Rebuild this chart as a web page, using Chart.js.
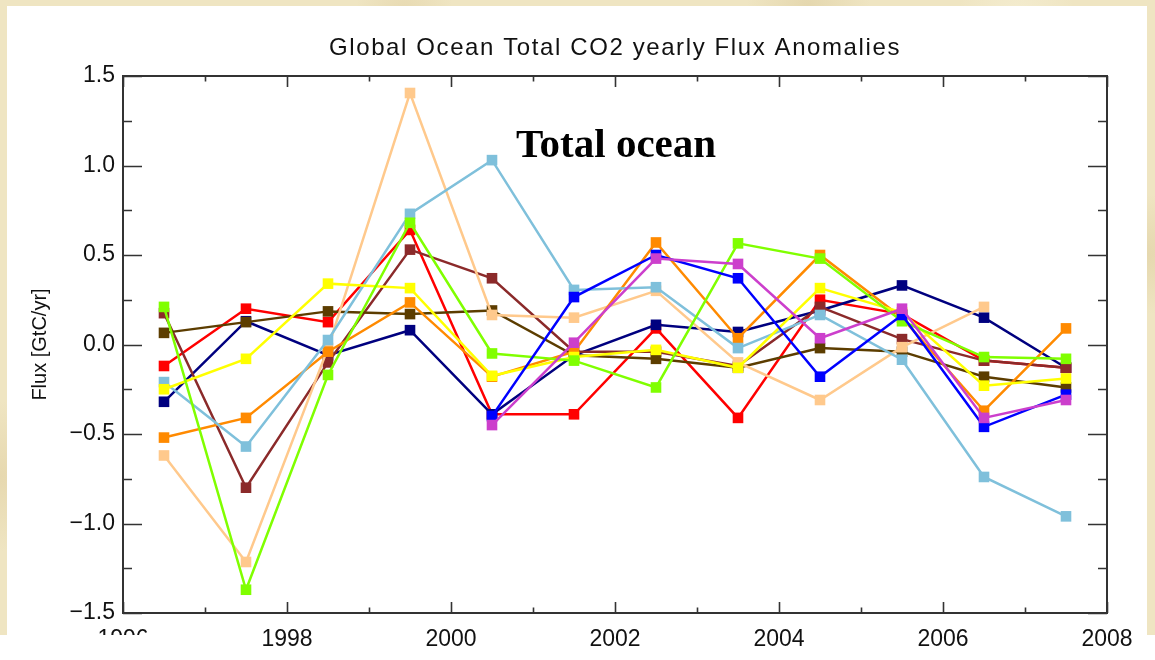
<!DOCTYPE html>
<html>
<head>
<meta charset="utf-8">
<title>Global Ocean Total CO2 yearly Flux Anomalies</title>
<script src="https://cdn.jsdelivr.net/npm/chart.js@4.4.1/dist/chart.umd.min.js"></script>
<style>
  html, body { margin: 0; padding: 0; width: 1155px; height: 660px; overflow: hidden; background: #fff; }
  #paper {
    position: absolute; left: 0; top: 0; width: 1155px; height: 635px;
    background-color: #efe5c2;
    background-image:
      radial-gradient(circle at 10% 20%, rgba(222,205,160,0.55) 0, rgba(222,205,160,0) 6%),
      radial-gradient(circle at 35% 2%, rgba(226,210,166,0.6) 0, rgba(226,210,166,0) 5%),
      radial-gradient(circle at 70% 1%, rgba(220,204,158,0.55) 0, rgba(220,204,158,0) 6%),
      radial-gradient(circle at 99% 40%, rgba(222,206,160,0.6) 0, rgba(222,206,160,0) 5%),
      radial-gradient(circle at 0% 75%, rgba(225,208,162,0.6) 0, rgba(225,208,162,0) 6%),
      radial-gradient(circle at 88% 3%, rgba(246,240,214,0.7) 0, rgba(246,240,214,0) 5%);
  }
  #sheet { position: absolute; left: 7px; top: 6px; width: 1140px; height: 654px; background: #fff; }
  #wrap { position: absolute; left: 0; top: 0; width: 1155px; height: 660px; }
</style>
</head>
<body>
<div id="paper"></div>
<div id="sheet"></div>
<div id="wrap"><canvas id="c" width="1155" height="660"></canvas></div>
<script>
// Mid-year sample times
const years = [1996.5, 1997.5, 1998.5, 1999.5, 2000.5, 2001.5, 2002.5, 2003.5, 2004.5, 2005.5, 2006.5, 2007.5];

// Yearly flux anomalies (GtC/yr), one array per model run
const fluxRed         = [-0.12, 0.20, 0.125, 0.64, -0.39, -0.39, 0.09, -0.41, 0.25, 0.17, -0.09, -0.13];
const fluxNavy        = [-0.32, 0.13, -0.06, 0.08, -0.39, -0.06, 0.11, 0.07, 0.19, 0.33, 0.15, -0.13];
const fluxBrown       = [0.175, -0.80, -0.10, 0.53, 0.37, -0.04, -0.04, -0.12, 0.21, 0.03, -0.09, -0.13];
const fluxDarkBrown   = [0.065, 0.125, 0.185, 0.17, 0.19, -0.06, -0.08, -0.13, -0.02, -0.04, -0.18, -0.24];
const fluxLightOrange = [-0.62, -1.215, -0.02, 1.405, 0.165, 0.15, 0.30, -0.10, -0.31, -0.015, 0.21, null];
const fluxOrange      = [-0.52, -0.41, -0.04, 0.235, -0.18, -0.04, 0.57, 0.035, 0.50, 0.15, -0.37, 0.09];
const fluxLightBlue   = [-0.21, -0.57, 0.025, 0.73, 1.03, 0.305, 0.32, -0.02, 0.165, -0.085, -0.74, -0.96];
const fluxYellow      = [-0.25, -0.08, 0.34, 0.315, -0.175, -0.07, -0.03, -0.13, 0.315, 0.18, -0.23, -0.19];
const fluxGreen       = [0.21, -1.37, -0.17, 0.68, -0.05, -0.09, -0.24, 0.565, 0.48, 0.13, -0.07, -0.08];
const fluxBlue        = [null, null, null, null, -0.40, 0.265, 0.50, 0.37, -0.18, 0.165, -0.46, -0.28];
const fluxMagenta     = [null, null, null, null, -0.45, 0.01, 0.48, 0.45, 0.035, 0.20, -0.41, -0.31];

// Axis ticks
const xMajorTicks = [1996, 1998, 2000, 2002, 2004, 2006, 2008];
const xMinorTicks = [1997, 1999, 2001, 2003, 2005, 2007];
const yMajorTicks = [-1.5, -1.0, -0.5, 0.0, 0.5, 1.0, 1.5];
const yMinorTicks = [-1.25, -0.75, -0.25, 0.25, 0.75, 1.25];

const chartTitle = 'Global Ocean Total CO2 yearly Flux Anomalies';
const yTitle = 'Flux [GtC/yr]';
const panelNote = 'Total ocean';

// Drawing order: first entry at the bottom, last on top
const runs = [
  { values: fluxRed,         color: '#ff0000' },
  { values: fluxNavy,        color: '#00007f' },
  { values: fluxBrown,       color: '#8b2a2a' },
  { values: fluxDarkBrown,   color: '#5c3d00' },
  { values: fluxLightOrange, color: '#ffc98c' },
  { values: fluxOrange,      color: '#ff8a00' },
  { values: fluxLightBlue,   color: '#7fc0db' },
  { values: fluxYellow,      color: '#ffff00' },
  { values: fluxGreen,       color: '#80ff00' },
  { values: fluxBlue,        color: '#0000ff' },
  { values: fluxMagenta,     color: '#cc3fcc' }
];

const datasets = runs.map((r, i) => ({
  data: years.map((x, k) => r.values[k] === null ? null : { x: x, y: r.values[k] }).filter(p => p !== null),
  borderColor: r.color,
  backgroundColor: r.color,
  borderWidth: 2.5,
  pointStyle: 'rect',
  pointRadius: 7.5,
  pointBorderWidth: 0,
  pointBackgroundColor: r.color,
  tension: 0,
  order: runs.length - i
}));

const FONT = '"Liberation Sans", Arial, Helvetica, sans-serif';
const INK = '#111';

// Box frame with inward ticks on all four sides, titles and labels
const frame = {
  id: 'frame',
  afterDraw(chart) {
    const ctx = chart.ctx;
    const a = chart.chartArea;
    const xs = chart.scales.x, ys = chart.scales.y;
    ctx.save();
    ctx.strokeStyle = '#333';
    ctx.lineWidth = 2;
    ctx.strokeRect(a.left, a.top, a.right - a.left, a.bottom - a.top);
    ctx.lineWidth = 1.6;
    ctx.beginPath();
    const xTick = (v, len) => {
      const px = Math.round(xs.getPixelForValue(v)) + 0.5;
      ctx.moveTo(px, a.bottom); ctx.lineTo(px, a.bottom - len);
      ctx.moveTo(px, a.top); ctx.lineTo(px, a.top + len);
    };
    const yTick = (v, len) => {
      const py = Math.round(ys.getPixelForValue(v)) + 0.5;
      ctx.moveTo(a.left, py); ctx.lineTo(a.left + len, py);
      ctx.moveTo(a.right, py); ctx.lineTo(a.right - len, py);
    };
    xMajorTicks.forEach(v => xTick(v, 11));
    xMinorTicks.forEach(v => xTick(v, 5.5));
    yMajorTicks.forEach(v => yTick(v, 19));
    yMinorTicks.forEach(v => yTick(v, 9));
    ctx.stroke();

    // first year label sits partly under the lower edge of the sheet
    const p0 = xs.getPixelForValue(xMajorTicks[0]);
    ctx.fillStyle = '#fff';
    ctx.fillRect(p0 - 36, 635, 72, 25);

    // chart title
    ctx.fillStyle = INK;
    ctx.font = '24px ' + FONT;
    ctx.textAlign = 'center';
    ctx.textBaseline = 'middle';
    if ('letterSpacing' in ctx) ctx.letterSpacing = '1.6px';
    ctx.fillText(chartTitle, (a.left + a.right) / 2, 48);
    if ('letterSpacing' in ctx) ctx.letterSpacing = '0px';

    // y axis title
    ctx.save();
    ctx.translate(40, ys.getPixelForValue(0));
    ctx.rotate(-Math.PI / 2);
    ctx.font = '20px ' + FONT;
    ctx.fillText(yTitle, 0, 0);
    ctx.restore();

    // panel annotation
    ctx.font = 'bold 41px "Liberation Serif", "Times New Roman", serif';
    ctx.textAlign = 'left';
    ctx.textBaseline = 'alphabetic';
    ctx.fillStyle = '#000';
    ctx.fillText(panelNote, 516, 157);
    ctx.restore();
  }
};

new Chart(document.getElementById('c'), {
  type: 'line',
  data: { datasets: datasets },
  options: {
    responsive: false,
    animation: false,
    layout: { padding: { left: 0, right: 48, top: 76, bottom: 0 } },
    plugins: { legend: { display: false }, title: { display: false }, tooltip: { enabled: false } },
    scales: {
      x: {
        type: 'linear', min: 1996, max: 2008,
        grid: { display: false, drawTicks: false },
        border: { display: false },
        afterBuildTicks: s => { s.ticks = xMajorTicks.map(v => ({ value: v })); },
        afterFit: s => { s.height = 47; },
        ticks: {
          padding: 13, color: INK, maxRotation: 0, autoSkip: false,
          font: { family: FONT, size: 23 },
          callback: v => String(v)
        }
      },
      y: {
        type: 'linear', min: -1.5, max: 1.5,
        grid: { display: false, drawTicks: false },
        border: { display: false },
        afterBuildTicks: s => { s.ticks = yMajorTicks.map(v => ({ value: v })); },
        afterFit: s => { s.width = 123; },
        ticks: {
          padding: 8, color: INK, autoSkip: false,
          font: { family: FONT, size: 23 },
          callback: v => Number(v).toFixed(1).replace('-', '\u2212')
        }
      }
    }
  },
  plugins: [frame]
});
</script>
</body>
</html>
